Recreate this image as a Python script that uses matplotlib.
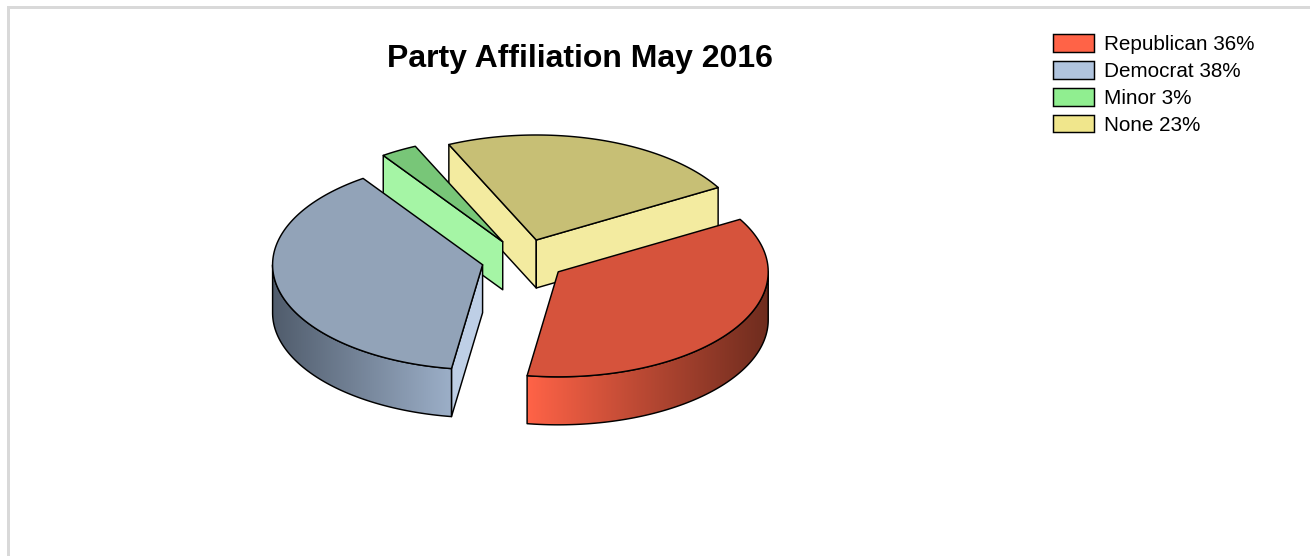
import numpy as np
import matplotlib
matplotlib.use("Agg")
import matplotlib.pyplot as plt
from matplotlib.colors import LinearSegmentedColormap
from matplotlib.patches import Patch, Polygon, Rectangle

parties = ["Republican", "Democrat", "Minor", "None"]
# slice sizes, legend shows them rounded
shares = [35.7, 38.0, 2.8, 23.5]
share_labels = ["36%", "38%", "3%", "23%"]
base_colors = ["#FF6347", "#B0C4DE", "#90EE90", "#F0E68C"]
top_colors = ["#D6533C", "#92A3B8", "#78C678", "#C7BF75"]
cut_colors = ["#FF7A62", "#BECFE6", "#A5F5A5", "#F3EBA0"]
wall_ramps = [["#FF6347", "#6E2C1E"], ["#505C6C", "#9CAFC8"], ["#90EE90", "#90EE90"], ["#F0E68C", "#F0E68C"]]

W, H = 1310, 556
cx, cy = 523.5, 260
rx, ry = 210, 105
depth = 48
explode = 0.2
start = 30

plt.rcParams["font.family"] = ["Liberation Sans", "DejaVu Sans"]
fig = plt.figure(figsize=(W / 100, H / 100), dpi=100)
ax = fig.add_axes([0, 0, 1, 1])


def arc(x0, y0, a, b):
    t = np.radians(np.linspace(a, b, 120))
    return np.column_stack([x0 + rx * np.cos(t), y0 - ry * np.sin(t)])


def draw_slice(i, a0, a1, z):
    # a0 > a1, angles run clockwise from the start
    mid = np.radians((a0 + a1) / 2)
    x0 = cx + explode * rx * np.cos(mid)
    y0 = cy - explode * ry * np.sin(mid)
    line = dict(edgecolor="black", linewidth=1.05, joinstyle="round")

    # flat cut faces, only where they look toward the viewer
    for ang, visible in ((a0, np.sin(np.radians(a0 + 90)) < 0), (a1, np.sin(np.radians(a1 - 90)) < 0)):
        if visible:
            ex, ey = arc(x0, y0, ang, ang)[0]
            face = [(x0, y0), (ex, ey), (ex, ey + depth), (x0, y0 + depth)]
            ax.add_patch(Polygon(face, facecolor=cut_colors[i], zorder=z, **line))

    # outer wall, the part of the arc in the lower half of the ellipse
    lo = max(a1, -180)
    hi = min(a0, 0)
    if lo < hi:
        pts = arc(x0, y0, lo, hi)
        wall = np.vstack([pts, (pts + [0, depth])[::-1]])
        poly = Polygon(wall, facecolor="none", zorder=z + 0.2, **line)
        ax.add_patch(poly)
        cmap = LinearSegmentedColormap.from_list("wall", wall_ramps[i])
        grad = np.linspace(0, 1, 256).reshape(1, -1)
        im = ax.imshow(grad, cmap=cmap, aspect="auto", zorder=z + 0.1,
                       extent=(pts[:, 0].min(), pts[:, 0].max(), pts[:, 1].max() + depth, pts[:, 1].min()))
        im.set_clip_path(poly)

    top = np.vstack([[(x0, y0)], arc(x0, y0, a0, a1)])
    ax.add_patch(Polygon(top, facecolor=top_colors[i], zorder=z + 0.5, **line))


angle = start
slices = []
for i, s in enumerate(shares):
    slices.append((i, angle, angle - s * 3.6))
    angle -= s * 3.6

# back slices first: None, Minor, Democrat, Republican
for z, (i, a0, a1) in enumerate(reversed(slices)):
    draw_slice(i, a0, a1, z + 1)

ax.set_xlim(0, W)
ax.set_ylim(H, 0)
ax.axis("off")

# light frame along the top and left
ax.add_patch(Rectangle((7, 6), W, 3, facecolor="#D9D9D9", edgecolor="none", zorder=0))
ax.add_patch(Rectangle((7, 6), 3, H, facecolor="#D9D9D9", edgecolor="none", zorder=0))

ax.text(580, 59.5, "Party Affiliation May 2016", ha="center", va="center",
        fontsize=23.05, fontweight="bold", color="black")

handles = [Patch(facecolor=c, edgecolor="black", linewidth=1.05) for c in base_colors]
labels = [f"{p} {s}" for p, s in zip(parties, share_labels)]
ax.legend(handles, labels, loc="upper left", bbox_to_anchor=(1053, 34), bbox_transform=ax.transData,
          frameon=False, fontsize=14.9, borderpad=0, borderaxespad=0, handlelength=2.0,
          handleheight=0.95, handletextpad=0.47, labelspacing=0.33)

fig.savefig("out.png", dpi=100)
